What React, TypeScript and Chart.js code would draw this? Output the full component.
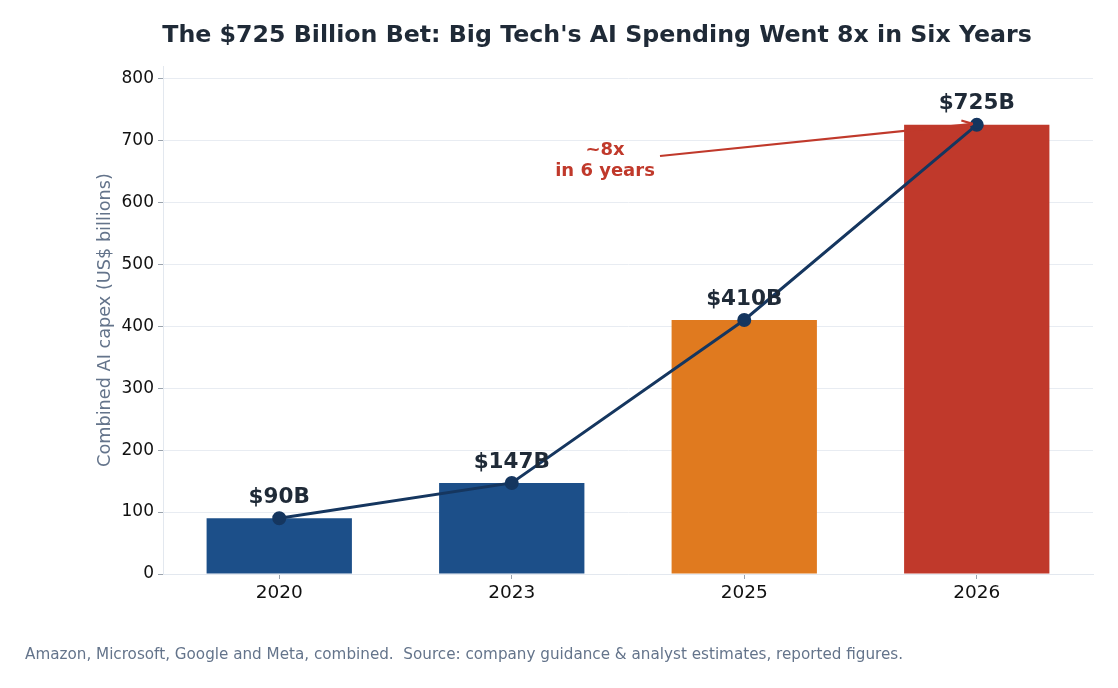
import React, { useEffect, useRef } from "react";
import { Chart, registerables } from "chart.js";

Chart.register(...registerables);

const years = ["2020", "2023", "2025", "2026"];
const capex = [90, 147, 410, 725];
const valueLabels = ["$90B", "$147B", "$410B", "$725B"];
const barColors = ["#1c4f89", "#1c4f89", "#e07a1f", "#c0392b"];
const yTicks = [0, 100, 200, 300, 400, 500, 600, 700, 800];

const TITLE = "The $725 Billion Bet: Big Tech's AI Spending Went 8x in Six Years";
const FOOTER = "Amazon, Microsoft, Google and Meta, combined.  Source: company guidance & analyst estimates, reported figures.";
const Y_TITLE = "Combined AI capex (US$ billions)";
const ANNOT = ["~8x", "in 6 years"];

const FONT = "'DejaVu Sans', sans-serif";

const overlay = {
  id: "overlay",
  afterDatasetsDraw(chart: any) {
    const { ctx } = chart;
    const xs = chart.scales.x;
    const ys = chart.scales.y;
    ctx.save();
    ctx.fillStyle = "#1f2a37";
    ctx.font = `bold 21.5px ${FONT}`;
    ctx.textAlign = "center";
    ctx.textBaseline = "middle";
    capex.forEach((v, i) => {
      const x = xs.getPixelForValue(i);
      const y = ys.getPixelForValue(v);
      ctx.fillText(valueLabels[i], x, y - 21);
    });
    const tx = xs.getPixelForValue(3);
    const ty = ys.getPixelForValue(capex[3]);
    const sx = 660, sy = 156;
    const ex = tx - 4, ey = ty - 1;
    ctx.strokeStyle = "#c0392b";
    ctx.fillStyle = "#c0392b";
    ctx.lineWidth = 2.2;
    ctx.beginPath();
    ctx.moveTo(sx, sy);
    ctx.lineTo(ex, ey);
    ctx.stroke();
    const ang = Math.atan2(ey - sy, ex - sx);
    ctx.beginPath();
    ctx.moveTo(ex, ey);
    ctx.lineTo(ex - 11 * Math.cos(ang) + 4.5 * Math.sin(ang), ey - 11 * Math.sin(ang) - 4.5 * Math.cos(ang));
    ctx.moveTo(ex, ey);
    ctx.lineTo(ex - 11 * Math.cos(ang) - 4.5 * Math.sin(ang), ey - 11 * Math.sin(ang) + 4.5 * Math.cos(ang));
    ctx.stroke();
    ctx.font = `bold 18px ${FONT}`;
    ctx.textAlign = "center";
    ctx.fillText(ANNOT[0], 605, 150);
    ctx.fillText(ANNOT[1], 605, 171);
    ctx.restore();
  },
  afterDraw(chart: any) {
    const { ctx, chartArea } = chart;
    ctx.save();
    ctx.fillStyle = "#1f2a37";
    ctx.font = `bold 23.7px ${FONT}`;
    ctx.textAlign = "center";
    ctx.textBaseline = "middle";
    ctx.fillText(TITLE, 597, 36);
    ctx.fillStyle = "#64748b";
    ctx.font = `15.2px ${FONT}`;
    ctx.textAlign = "left";
    ctx.fillText(FOOTER, 25, 655);
    ctx.translate(105, (chartArea.top + chartArea.bottom) / 2);
    ctx.rotate(-Math.PI / 2);
    ctx.textAlign = "center";
    ctx.font = `17.7px ${FONT}`;
    ctx.fillText(Y_TITLE, 0, 0);
    ctx.restore();
  },
};

export default function App() {
  const ref = useRef<HTMLCanvasElement>(null);
  useEffect(() => {
    const chart = new Chart(ref.current!, {
      type: "bar",
      data: {
        labels: years,
        datasets: [
          {
            type: "line",
            data: capex,
            borderColor: "#15365f",
            backgroundColor: "#15365f",
            borderWidth: 3,
            pointRadius: 5.5,
            pointHoverRadius: 5.5,
            order: 0,
          } as any,
          {
            type: "bar",
            data: capex,
            backgroundColor: barColors,
            barPercentage: 0.625,
            categoryPercentage: 1,
            order: 1,
          },
        ],
      },
      options: {
        animation: false,
        responsive: false,
        layout: { padding: { left: 0, right: 25, top: 66, bottom: 74 } },
        plugins: { legend: { display: false }, tooltip: { enabled: false }, title: { display: false } },
        scales: {
          x: {
            offset: true,
            grid: { display: true, offset: false, drawOnChartArea: false, tickLength: 5, color: "#9aa3ad" },
            border: { display: true, color: "#e3e8ef" },
            ticks: { color: "#111", font: { family: FONT, size: 18.5 }, padding: 3 },
            afterFit: (s: any) => { s.height = 40; },
          },
          y: {
            min: 0,
            max: 820,
            grid: { color: "#e8ecf2", tickColor: "#9aa3ad", tickLength: 5, lineWidth: 1 },
            border: { display: true, color: "#e3e8ef" },
            ticks: { color: "#111", font: { family: FONT, size: 17 }, padding: 4, stepSize: 100 },
            afterBuildTicks: (s: any) => { s.ticks = yTicks.map((v) => ({ value: v })); },
            afterFit: (s: any) => { s.width = 163; },
          },
        },
      },
      plugins: [overlay],
    });
    return () => chart.destroy();
  }, []);
  return (
    <div style={{ position: "fixed", left: 0, top: 0, width: 1118, height: 688, background: "#fff" }}>
      <canvas ref={ref} width={1118} height={688} />
    </div>
  );
}
